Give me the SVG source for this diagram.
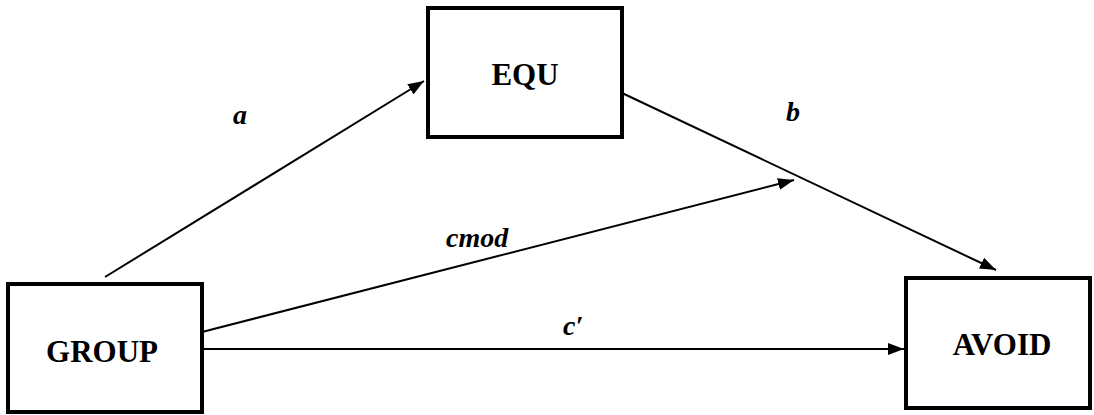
<svg xmlns="http://www.w3.org/2000/svg" width="1094" height="415" viewBox="0 0 1094 415">
<style>
.box{fill:#fff;stroke:#000;stroke-width:4}
.lbl{font-family:'Liberation Serif','Times New Roman',Times,'DejaVu Serif',serif;font-weight:700;font-size:31px;text-anchor:middle;fill:#000}
.it{font-family:'Liberation Serif','Times New Roman',Times,'DejaVu Serif',serif;font-weight:700;font-style:italic;font-size:28px;fill:#000}
.ln{stroke:#000;stroke-width:2;fill:none;marker-end:url(#ah)}
</style>
<defs>
<marker id="ah" viewBox="0 0 16 12" refX="16" refY="6" markerWidth="16" markerHeight="12" markerUnits="userSpaceOnUse" orient="auto">
<path d="M0,0 L16,6 L0,12 Z" fill="#000"/>
</marker>
</defs>
<rect width="1094" height="415" fill="#fff"/>
<g id="connectors">
<line class="ln" x1="105" y1="277" x2="424" y2="81"/>
<line class="ln" x1="622" y1="93" x2="996" y2="270"/>
<line class="ln" x1="202" y1="332" x2="794" y2="180"/>
<line class="ln" x1="202" y1="349" x2="904" y2="349"/>
<text class="it" x="233" y="124">a</text>
<text class="it" x="786" y="121">b</text>
<text class="it" x="446" y="247">cmod</text>
<text class="it" x="563" y="335">c′</text>
</g>
<g id="EQU">
<rect class="box" x="428" y="8" width="194" height="129"/>
<text class="lbl" x="525" y="85">EQU</text>
</g>
<g id="GROUP">
<rect class="box" x="8" y="284" width="194" height="128"/>
<text class="lbl" x="102" y="362">GROUP</text>
</g>
<g id="AVOID">
<rect class="box" x="906" y="278" width="184" height="130"/>
<text class="lbl" x="1002" y="355">AVOID</text>
</g>
</svg>
